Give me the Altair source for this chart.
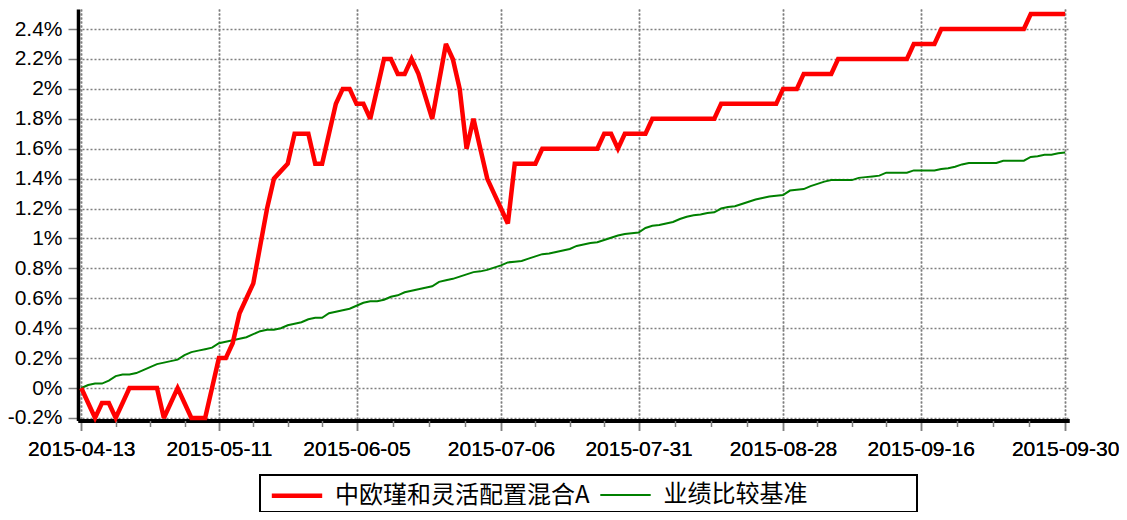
import altair as alt
import pandas as pd

# ---- data ----
fund_name = "中欧瑾和灵活配置混合A"
bench_name = "业绩比较基准"

# cumulative return (%) per observation (index 0..143)
fund_values = [
    0, -0.1, -0.2, -0.1, -0.1, -0.2, -0.1, 0, 0, 0,
    0, 0, -0.2, -0.1, 0, -0.1, -0.2, -0.2, -0.2, 0,
    0.2, 0.2, 0.3, 0.5, 0.6, 0.7, 0.95, 1.2, 1.4, 1.45,
    1.5, 1.7, 1.7, 1.7, 1.5, 1.5, 1.7, 1.9, 2.0, 2.0,
    1.9, 1.9, 1.8, 2.0, 2.2, 2.2, 2.1, 2.1, 2.2, 2.1,
    1.95, 1.8, 2.05, 2.3, 2.2, 2.0, 1.6, 1.8, 1.6, 1.4,
    1.3, 1.2, 1.1, 1.5, 1.5, 1.5, 1.5, 1.6, 1.6, 1.6,
    1.6, 1.6, 1.6, 1.6, 1.6, 1.6, 1.7, 1.7, 1.6, 1.7,
    1.7, 1.7, 1.7, 1.8, 1.8, 1.8, 1.8, 1.8, 1.8, 1.8,
    1.8, 1.8, 1.8, 1.9, 1.9, 1.9, 1.9, 1.9, 1.9, 1.9,
    1.9, 1.9, 2.0, 2.0, 2.0, 2.1, 2.1, 2.1, 2.1, 2.1,
    2.2, 2.2, 2.2, 2.2, 2.2, 2.2, 2.2, 2.2, 2.2, 2.2,
    2.2, 2.3, 2.3, 2.3, 2.3, 2.4, 2.4, 2.4, 2.4, 2.4,
    2.4, 2.4, 2.4, 2.4, 2.4, 2.4, 2.4, 2.4, 2.5, 2.5,
    2.5, 2.5, 2.5, 2.5,
]

bench_values = [
    0.00, 0.02, 0.03, 0.03, 0.05, 0.08, 0.09, 0.09, 0.10, 0.12,
    0.14, 0.16, 0.17, 0.18, 0.19, 0.22, 0.24, 0.25, 0.26, 0.27,
    0.30, 0.31, 0.32, 0.33, 0.34, 0.36, 0.38, 0.39, 0.39, 0.40,
    0.42, 0.43, 0.44, 0.46, 0.47, 0.47, 0.50, 0.51, 0.52, 0.53,
    0.55, 0.57, 0.58, 0.58, 0.59, 0.61, 0.62, 0.64, 0.65, 0.66,
    0.67, 0.68, 0.71, 0.72, 0.73, 0.745, 0.76, 0.775, 0.78, 0.79,
    0.805, 0.82, 0.84, 0.845, 0.85, 0.865, 0.88, 0.895, 0.90, 0.91,
    0.92, 0.93, 0.95, 0.96, 0.97, 0.975, 0.99, 1.005, 1.02, 1.03,
    1.035, 1.04, 1.07, 1.085, 1.09, 1.10, 1.11, 1.13, 1.145, 1.155,
    1.16, 1.17, 1.175, 1.20, 1.21, 1.215, 1.23, 1.245, 1.26, 1.27,
    1.28, 1.285, 1.29, 1.32, 1.325, 1.33, 1.35, 1.365, 1.38, 1.39,
    1.39, 1.39, 1.39, 1.405, 1.41, 1.415, 1.42, 1.44, 1.44, 1.44,
    1.44, 1.455, 1.455, 1.455, 1.455, 1.465, 1.47, 1.48, 1.495, 1.505,
    1.505, 1.505, 1.505, 1.505, 1.52, 1.52, 1.52, 1.52, 1.545, 1.55,
    1.56, 1.56, 1.57, 1.575,
]

x_tick_positions = [0, 20, 40, 61, 81, 102, 122, 143]
x_tick_labels = ["2015-04-13", "2015-05-11", "2015-06-05", "2015-07-06",
                 "2015-07-31", "2015-08-28", "2015-09-16", "2015-09-30"]
y_ticks = [-0.2, 0.0, 0.2, 0.4, 0.6, 0.8, 1.0, 1.2, 1.4, 1.6, 1.8, 2.0, 2.2, 2.4]

# ---- build table ----
rows = []
for i, v in enumerate(fund_values):
    rows.append({"idx": i, "value": v, "series": fund_name})
for i, v in enumerate(bench_values):
    rows.append({"idx": i, "value": v, "series": bench_name})
df = pd.DataFrame(rows)

minor_ticks = []
for a, b in zip(x_tick_positions[:-1], x_tick_positions[1:]):
    for k in (1, 2, 3):
        minor_ticks.append(a + (b - a) * k / 4)

x_label_expr = " : ".join(
    f"datum.value == {p} ? '{l}'" for p, l in zip(x_tick_positions, x_tick_labels)
) + " : ''"

x_scale = alt.Scale(domain=[-0.48, 143.56], nice=False, zero=False)
y_scale = alt.Scale(domain=[-0.217, 2.534], nice=False, zero=False)

AXIS_FONT = "Liberation Sans"
GRID = dict(grid=True, gridColor="#7f7f7f", gridDash=[2, 2], gridWidth=1.5, gridOpacity=1)

x_major = alt.Axis(
    orient="bottom", values=x_tick_positions, labelExpr=x_label_expr, title=None,
    domainColor="#000000", domainWidth=4, tickColor="#808080", tickWidth=1.5, tickSize=10,
    labelFont=AXIS_FONT, labelFontSize=21, labelColor="#000000", labelPadding=8,
    labelFlush=False, labelOverlap=False, **GRID,
)
x_minor = alt.Axis(
    orient="bottom", values=minor_ticks, labels=False, title=None, grid=False,
    domain=False, tickColor="#808080", tickWidth=1.5, tickSize=6,
)
y_axis = alt.Axis(
    values=y_ticks, title=None,
    labelExpr="(datum.value < -0.0001 ? '-' : '') + format(abs(datum.value), '.1~f') + '%'",
    domainColor="#000000", domainWidth=3.5, tickColor="#808080", tickWidth=1.5, tickSize=10,
    labelFont=AXIS_FONT, labelFontSize=21, labelColor="#000000", labelPadding=6,
    **GRID,
)

color_scale = alt.Scale(domain=[fund_name, bench_name], range=["#ff0000", "#008000"])
width_scale = alt.Scale(domain=[fund_name, bench_name], range=[4.5, 2])

legend = alt.Legend(
    title="\u3000", titleOrient="right", titlePadding=106, titleFontSize=10,
    titleColor="#ffffff",
    orient="none", legendX=182, legendY=466, direction="horizontal",
    columns=2, symbolType="M-1.8,0H1.8", symbolSize=784,
    labelFont="Noto Sans CJK SC", labelFontSize=24, labelColor="#000000",
    labelLimit=500, labelOffset=21.5, padding=4, columnPadding=2.5,
    strokeColor="#000000", fillColor="#ffffff", symbolOffset=16.5,
)

base = alt.Chart(df).mark_line(strokeJoin="miter", strokeMiterLimit=3).encode(
    x=alt.X("idx:Q", scale=x_scale, axis=x_major),
    y=alt.Y("value:Q", scale=y_scale, axis=y_axis),
    color=alt.Color("series:N", scale=color_scale, legend=legend),
    strokeWidth=alt.StrokeWidth("series:N", scale=width_scale, legend=legend),
)

green = base.transform_filter(alt.datum.series == bench_name)
red = base.transform_filter(alt.datum.series == fund_name)

minor_layer = alt.Chart(df).transform_filter(alt.datum.series == bench_name).mark_line(
    opacity=0
).encode(
    x=alt.X("idx:Q", scale=x_scale, axis=x_minor),
    y=alt.Y("value:Q", scale=y_scale, axis=y_axis),
)

chart = (
    alt.layer(green, red, minor_layer)
    .resolve_axis(x="independent")
    .properties(
        width=991, height=411.5,
        autosize=alt.AutoSizeParams(type="none"),
        padding={"left": 70, "top": 1, "right": 50, "bottom": 91.5},
        background="#ffffff",
    )
    .configure_view(stroke=None)
    .configure_legend(strokeWidth=2)
)

chart.save("out.html", embed_options={"renderer": "svg", "actions": False})
